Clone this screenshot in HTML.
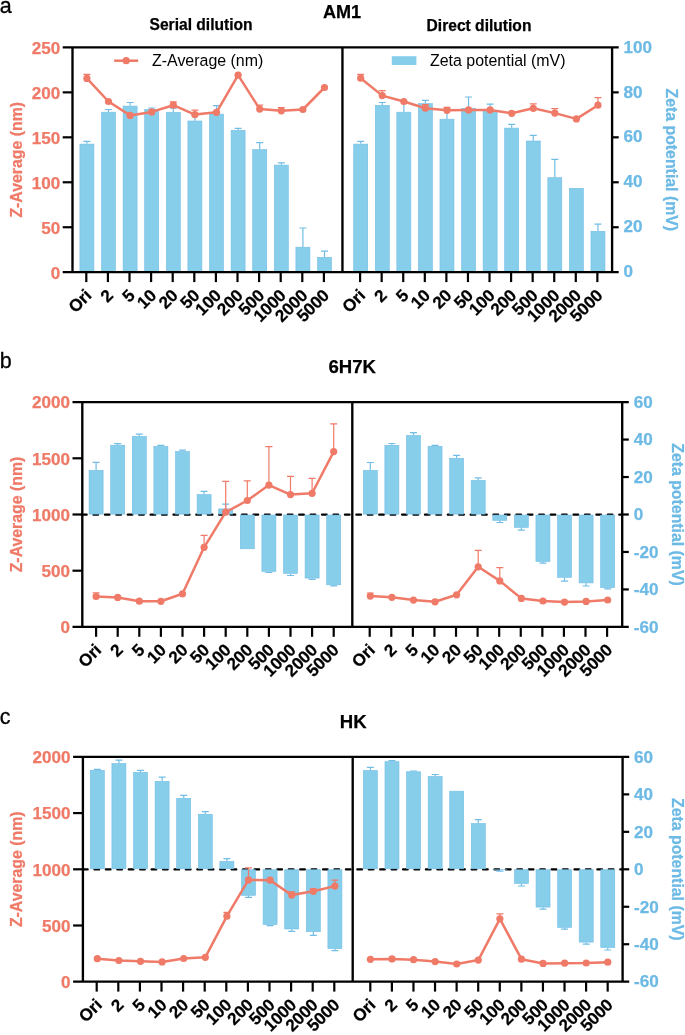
<!DOCTYPE html>
<html><head><meta charset="utf-8"><title>Figure</title>
<style>html,body{margin:0;padding:0;background:#fff}svg{display:block;will-change:transform}text{font-family:"Liberation Sans", Arial, Helvetica, sans-serif}</style>
</head><body>
<svg width="685" height="1035" viewBox="0 0 685 1035">
<rect width="685" height="1035" fill="#fff"/>
<rect x="79.90" y="144.10" width="14.0" height="127.80" fill="#87CEEB" stroke="#72BDE6" stroke-width="0.6"/>
<path d="M86.90 143.80V141.30M83.40 141.30H90.40" stroke="#72BDE6" stroke-width="1.2" fill="none"/>
<rect x="101.50" y="112.20" width="14.0" height="159.70" fill="#87CEEB" stroke="#72BDE6" stroke-width="0.6"/>
<path d="M108.50 111.90V109.50M105.00 109.50H112.00" stroke="#72BDE6" stroke-width="1.2" fill="none"/>
<rect x="123.10" y="106.10" width="14.0" height="165.80" fill="#87CEEB" stroke="#72BDE6" stroke-width="0.6"/>
<path d="M130.10 105.80V102.50M126.60 102.50H133.60" stroke="#72BDE6" stroke-width="1.2" fill="none"/>
<rect x="144.70" y="109.30" width="14.0" height="162.60" fill="#87CEEB" stroke="#72BDE6" stroke-width="0.6"/>
<path d="M151.70 109.00V108.00M148.20 108.00H155.20" stroke="#72BDE6" stroke-width="1.2" fill="none"/>
<rect x="166.30" y="112.40" width="14.0" height="159.50" fill="#87CEEB" stroke="#72BDE6" stroke-width="0.6"/>
<path d="M173.30 112.10V108.20M169.80 108.20H176.80" stroke="#72BDE6" stroke-width="1.2" fill="none"/>
<rect x="187.90" y="121.00" width="14.0" height="150.90" fill="#87CEEB" stroke="#72BDE6" stroke-width="0.6"/>
<path d="M194.90 120.70V115.30M191.40 115.30H198.40" stroke="#72BDE6" stroke-width="1.2" fill="none"/>
<rect x="209.50" y="114.10" width="14.0" height="157.80" fill="#87CEEB" stroke="#72BDE6" stroke-width="0.6"/>
<path d="M216.50 113.80V105.70M213.00 105.70H220.00" stroke="#72BDE6" stroke-width="1.2" fill="none"/>
<rect x="231.10" y="130.40" width="14.0" height="141.50" fill="#87CEEB" stroke="#72BDE6" stroke-width="0.6"/>
<path d="M238.10 130.10V128.40M234.60 128.40H241.60" stroke="#72BDE6" stroke-width="1.2" fill="none"/>
<rect x="252.70" y="149.60" width="14.0" height="122.30" fill="#87CEEB" stroke="#72BDE6" stroke-width="0.6"/>
<path d="M259.70 149.30V142.60M256.20 142.60H263.20" stroke="#72BDE6" stroke-width="1.2" fill="none"/>
<rect x="274.30" y="165.10" width="14.0" height="106.80" fill="#87CEEB" stroke="#72BDE6" stroke-width="0.6"/>
<path d="M281.30 164.80V162.90M277.80 162.90H284.80" stroke="#72BDE6" stroke-width="1.2" fill="none"/>
<rect x="295.90" y="247.20" width="14.0" height="24.70" fill="#87CEEB" stroke="#72BDE6" stroke-width="0.6"/>
<path d="M302.90 246.90V228.00M299.40 228.00H306.40" stroke="#72BDE6" stroke-width="1.2" fill="none"/>
<rect x="317.50" y="257.30" width="14.0" height="14.60" fill="#87CEEB" stroke="#72BDE6" stroke-width="0.6"/>
<path d="M324.50 257.00V251.20M321.00 251.20H328.00" stroke="#72BDE6" stroke-width="1.2" fill="none"/>
<rect x="353.70" y="144.10" width="14.0" height="127.80" fill="#87CEEB" stroke="#72BDE6" stroke-width="0.6"/>
<path d="M360.70 143.80V141.30M357.20 141.30H364.20" stroke="#72BDE6" stroke-width="1.2" fill="none"/>
<rect x="375.27" y="105.30" width="14.0" height="166.60" fill="#87CEEB" stroke="#72BDE6" stroke-width="0.6"/>
<path d="M382.27 105.00V102.50M378.77 102.50H385.77" stroke="#72BDE6" stroke-width="1.2" fill="none"/>
<rect x="396.84" y="112.20" width="14.0" height="159.70" fill="#87CEEB" stroke="#72BDE6" stroke-width="0.6"/>
<path d="M403.84 111.90V101.50M400.34 101.50H407.34" stroke="#72BDE6" stroke-width="1.2" fill="none"/>
<rect x="418.41" y="103.60" width="14.0" height="168.30" fill="#87CEEB" stroke="#72BDE6" stroke-width="0.6"/>
<path d="M425.41 103.30V100.30M421.91 100.30H428.91" stroke="#72BDE6" stroke-width="1.2" fill="none"/>
<rect x="439.98" y="119.20" width="14.0" height="152.70" fill="#87CEEB" stroke="#72BDE6" stroke-width="0.6"/>
<path d="M446.98 118.90V109.00M443.48 109.00H450.48" stroke="#72BDE6" stroke-width="1.2" fill="none"/>
<rect x="461.55" y="108.50" width="14.0" height="163.40" fill="#87CEEB" stroke="#72BDE6" stroke-width="0.6"/>
<path d="M468.55 108.20V97.00M465.05 97.00H472.05" stroke="#72BDE6" stroke-width="1.2" fill="none"/>
<rect x="483.12" y="111.50" width="14.0" height="160.40" fill="#87CEEB" stroke="#72BDE6" stroke-width="0.6"/>
<path d="M490.12 111.20V104.10M486.62 104.10H493.62" stroke="#72BDE6" stroke-width="1.2" fill="none"/>
<rect x="504.69" y="128.10" width="14.0" height="143.80" fill="#87CEEB" stroke="#72BDE6" stroke-width="0.6"/>
<path d="M511.69 127.80V124.40M508.19 124.40H515.19" stroke="#72BDE6" stroke-width="1.2" fill="none"/>
<rect x="526.26" y="141.00" width="14.0" height="130.90" fill="#87CEEB" stroke="#72BDE6" stroke-width="0.6"/>
<path d="M533.26 140.70V135.40M529.76 135.40H536.76" stroke="#72BDE6" stroke-width="1.2" fill="none"/>
<rect x="547.83" y="177.70" width="14.0" height="94.20" fill="#87CEEB" stroke="#72BDE6" stroke-width="0.6"/>
<path d="M554.83 177.40V159.30M551.33 159.30H558.33" stroke="#72BDE6" stroke-width="1.2" fill="none"/>
<rect x="569.40" y="188.30" width="14.0" height="83.60" fill="#87CEEB" stroke="#72BDE6" stroke-width="0.6"/>
<rect x="590.97" y="231.30" width="14.0" height="40.60" fill="#87CEEB" stroke="#72BDE6" stroke-width="0.6"/>
<path d="M597.97 231.00V224.20M594.47 224.20H601.47" stroke="#72BDE6" stroke-width="1.2" fill="none"/>
<path d="M86.90 78.40V74.30M83.40 74.30H90.40" stroke="#EF7A68" stroke-width="1.2" fill="none"/>
<path d="M173.30 105.20V101.90M169.80 101.90H176.80" stroke="#EF7A68" stroke-width="1.2" fill="none"/>
<path d="M194.90 114.60V110.10M191.40 110.10H198.40" stroke="#EF7A68" stroke-width="1.2" fill="none"/>
<path d="M259.70 109.10V105.10M256.20 105.10H263.20" stroke="#EF7A68" stroke-width="1.2" fill="none"/>
<path d="M281.30 110.80V107.60M277.80 107.60H284.80" stroke="#EF7A68" stroke-width="1.2" fill="none"/>
<polyline points="86.90,78.40 108.50,101.50 130.10,115.40 151.70,111.90 173.30,105.20 194.90,114.60 216.50,112.30 238.10,75.20 259.70,109.10 281.30,110.80 302.90,109.50 324.50,87.50" fill="none" stroke="#EF7A68" stroke-width="2.5" stroke-linejoin="round"/>
<circle cx="86.90" cy="78.40" r="3.6" fill="#EF7A68"/>
<circle cx="108.50" cy="101.50" r="3.6" fill="#EF7A68"/>
<circle cx="130.10" cy="115.40" r="3.6" fill="#EF7A68"/>
<circle cx="151.70" cy="111.90" r="3.6" fill="#EF7A68"/>
<circle cx="173.30" cy="105.20" r="3.6" fill="#EF7A68"/>
<circle cx="194.90" cy="114.60" r="3.6" fill="#EF7A68"/>
<circle cx="216.50" cy="112.30" r="3.6" fill="#EF7A68"/>
<circle cx="238.10" cy="75.20" r="3.6" fill="#EF7A68"/>
<circle cx="259.70" cy="109.10" r="3.6" fill="#EF7A68"/>
<circle cx="281.30" cy="110.80" r="3.6" fill="#EF7A68"/>
<circle cx="302.90" cy="109.50" r="3.6" fill="#EF7A68"/>
<circle cx="324.50" cy="87.50" r="3.6" fill="#EF7A68"/>
<path d="M360.70 78.20V74.30M357.20 74.30H364.20" stroke="#EF7A68" stroke-width="1.2" fill="none"/>
<path d="M382.27 95.60V90.70M378.77 90.70H385.77" stroke="#EF7A68" stroke-width="1.2" fill="none"/>
<path d="M425.41 108.20V104.60M421.91 104.60H428.91" stroke="#EF7A68" stroke-width="1.2" fill="none"/>
<path d="M446.98 110.30V107.40M443.48 107.40H450.48" stroke="#EF7A68" stroke-width="1.2" fill="none"/>
<path d="M533.26 108.30V103.90M529.76 103.90H536.76" stroke="#EF7A68" stroke-width="1.2" fill="none"/>
<path d="M554.83 113.10V108.60M551.33 108.60H558.33" stroke="#EF7A68" stroke-width="1.2" fill="none"/>
<path d="M597.97 105.20V97.60M594.47 97.60H601.47" stroke="#EF7A68" stroke-width="1.2" fill="none"/>
<polyline points="360.70,78.20 382.27,95.60 403.84,101.50 425.41,108.20 446.98,110.30 468.55,109.90 490.12,109.90 511.69,113.30 533.26,108.30 554.83,113.10 576.40,118.90 597.97,105.20" fill="none" stroke="#EF7A68" stroke-width="2.5" stroke-linejoin="round"/>
<circle cx="360.70" cy="78.20" r="3.6" fill="#EF7A68"/>
<circle cx="382.27" cy="95.60" r="3.6" fill="#EF7A68"/>
<circle cx="403.84" cy="101.50" r="3.6" fill="#EF7A68"/>
<circle cx="425.41" cy="108.20" r="3.6" fill="#EF7A68"/>
<circle cx="446.98" cy="110.30" r="3.6" fill="#EF7A68"/>
<circle cx="468.55" cy="109.90" r="3.6" fill="#EF7A68"/>
<circle cx="490.12" cy="109.90" r="3.6" fill="#EF7A68"/>
<circle cx="511.69" cy="113.30" r="3.6" fill="#EF7A68"/>
<circle cx="533.26" cy="108.30" r="3.6" fill="#EF7A68"/>
<circle cx="554.83" cy="113.10" r="3.6" fill="#EF7A68"/>
<circle cx="576.40" cy="118.90" r="3.6" fill="#EF7A68"/>
<circle cx="597.97" cy="105.20" r="3.6" fill="#EF7A68"/>
<path d="M62.70 47.40H618.70M62.70 272.20H618.70" stroke="#000" stroke-width="2.2" fill="none"/>
<path d="M72.50 47.40V272.20M342.45 47.40V272.20M612.10 47.40V272.20" stroke="#000" stroke-width="2.35" fill="none"/>
<text x="60.20" y="278.55" text-anchor="end" font-size="17.1" font-weight="bold" fill="#EF7A68" stroke="#EF7A68" stroke-width="0.25">0</text>
<line x1="62.70" y1="227.24" x2="72.50" y2="227.24" stroke="#000" stroke-width="2.2"/>
<text x="60.20" y="233.59" text-anchor="end" font-size="17.1" font-weight="bold" fill="#EF7A68" stroke="#EF7A68" stroke-width="0.25">50</text>
<line x1="62.70" y1="182.28" x2="72.50" y2="182.28" stroke="#000" stroke-width="2.2"/>
<text x="60.20" y="188.63" text-anchor="end" font-size="17.1" font-weight="bold" fill="#EF7A68" stroke="#EF7A68" stroke-width="0.25">100</text>
<line x1="62.70" y1="137.32" x2="72.50" y2="137.32" stroke="#000" stroke-width="2.2"/>
<text x="60.20" y="143.67" text-anchor="end" font-size="17.1" font-weight="bold" fill="#EF7A68" stroke="#EF7A68" stroke-width="0.25">150</text>
<line x1="62.70" y1="92.36" x2="72.50" y2="92.36" stroke="#000" stroke-width="2.2"/>
<text x="60.20" y="98.71" text-anchor="end" font-size="17.1" font-weight="bold" fill="#EF7A68" stroke="#EF7A68" stroke-width="0.25">200</text>
<text x="60.20" y="53.75" text-anchor="end" font-size="17.1" font-weight="bold" fill="#EF7A68" stroke="#EF7A68" stroke-width="0.25">250</text>
<text x="623.60" y="277.35" text-anchor="start" font-size="17.1" font-weight="bold" fill="#6DBAE5" stroke="#6DBAE5" stroke-width="0.25">0</text>
<line x1="612.10" y1="227.24" x2="618.70" y2="227.24" stroke="#000" stroke-width="2.2"/>
<text x="623.60" y="232.39" text-anchor="start" font-size="17.1" font-weight="bold" fill="#6DBAE5" stroke="#6DBAE5" stroke-width="0.25">20</text>
<line x1="612.10" y1="182.28" x2="618.70" y2="182.28" stroke="#000" stroke-width="2.2"/>
<text x="623.60" y="187.43" text-anchor="start" font-size="17.1" font-weight="bold" fill="#6DBAE5" stroke="#6DBAE5" stroke-width="0.25">40</text>
<line x1="612.10" y1="137.32" x2="618.70" y2="137.32" stroke="#000" stroke-width="2.2"/>
<text x="623.60" y="142.47" text-anchor="start" font-size="17.1" font-weight="bold" fill="#6DBAE5" stroke="#6DBAE5" stroke-width="0.25">60</text>
<line x1="612.10" y1="92.36" x2="618.70" y2="92.36" stroke="#000" stroke-width="2.2"/>
<text x="623.60" y="97.51" text-anchor="start" font-size="17.1" font-weight="bold" fill="#6DBAE5" stroke="#6DBAE5" stroke-width="0.25">80</text>
<text x="623.60" y="52.55" text-anchor="start" font-size="17.1" font-weight="bold" fill="#6DBAE5" stroke="#6DBAE5" stroke-width="0.25">100</text>
<line x1="86.30" y1="272.70" x2="86.30" y2="282.10" stroke="#000" stroke-width="2.2"/>
<text transform="translate(92.60 296.50) rotate(-45)" text-anchor="end" letter-spacing="-0.12" font-size="17.1" font-weight="bold" fill="#000" stroke="#000" stroke-width="0.25">Ori</text>
<line x1="107.90" y1="272.70" x2="107.90" y2="282.10" stroke="#000" stroke-width="2.2"/>
<text transform="translate(114.20 296.50) rotate(-45)" text-anchor="end" letter-spacing="-0.12" font-size="17.1" font-weight="bold" fill="#000" stroke="#000" stroke-width="0.25">2</text>
<line x1="129.50" y1="272.70" x2="129.50" y2="282.10" stroke="#000" stroke-width="2.2"/>
<text transform="translate(135.80 296.50) rotate(-45)" text-anchor="end" letter-spacing="-0.12" font-size="17.1" font-weight="bold" fill="#000" stroke="#000" stroke-width="0.25">5</text>
<line x1="151.10" y1="272.70" x2="151.10" y2="282.10" stroke="#000" stroke-width="2.2"/>
<text transform="translate(157.40 296.50) rotate(-45)" text-anchor="end" letter-spacing="-0.12" font-size="17.1" font-weight="bold" fill="#000" stroke="#000" stroke-width="0.25">10</text>
<line x1="172.70" y1="272.70" x2="172.70" y2="282.10" stroke="#000" stroke-width="2.2"/>
<text transform="translate(179.00 296.50) rotate(-45)" text-anchor="end" letter-spacing="-0.12" font-size="17.1" font-weight="bold" fill="#000" stroke="#000" stroke-width="0.25">20</text>
<line x1="194.30" y1="272.70" x2="194.30" y2="282.10" stroke="#000" stroke-width="2.2"/>
<text transform="translate(200.60 296.50) rotate(-45)" text-anchor="end" letter-spacing="-0.12" font-size="17.1" font-weight="bold" fill="#000" stroke="#000" stroke-width="0.25">50</text>
<line x1="215.90" y1="272.70" x2="215.90" y2="282.10" stroke="#000" stroke-width="2.2"/>
<text transform="translate(222.20 296.50) rotate(-45)" text-anchor="end" letter-spacing="-0.12" font-size="17.1" font-weight="bold" fill="#000" stroke="#000" stroke-width="0.25">100</text>
<line x1="237.50" y1="272.70" x2="237.50" y2="282.10" stroke="#000" stroke-width="2.2"/>
<text transform="translate(243.80 296.50) rotate(-45)" text-anchor="end" letter-spacing="-0.12" font-size="17.1" font-weight="bold" fill="#000" stroke="#000" stroke-width="0.25">200</text>
<line x1="259.10" y1="272.70" x2="259.10" y2="282.10" stroke="#000" stroke-width="2.2"/>
<text transform="translate(265.40 296.50) rotate(-45)" text-anchor="end" letter-spacing="-0.12" font-size="17.1" font-weight="bold" fill="#000" stroke="#000" stroke-width="0.25">500</text>
<line x1="280.70" y1="272.70" x2="280.70" y2="282.10" stroke="#000" stroke-width="2.2"/>
<text transform="translate(287.00 296.50) rotate(-45)" text-anchor="end" letter-spacing="-0.12" font-size="17.1" font-weight="bold" fill="#000" stroke="#000" stroke-width="0.25">1000</text>
<line x1="302.30" y1="272.70" x2="302.30" y2="282.10" stroke="#000" stroke-width="2.2"/>
<text transform="translate(308.60 296.50) rotate(-45)" text-anchor="end" letter-spacing="-0.12" font-size="17.1" font-weight="bold" fill="#000" stroke="#000" stroke-width="0.25">2000</text>
<line x1="323.90" y1="272.70" x2="323.90" y2="282.10" stroke="#000" stroke-width="2.2"/>
<text transform="translate(330.20 296.50) rotate(-45)" text-anchor="end" letter-spacing="-0.12" font-size="17.1" font-weight="bold" fill="#000" stroke="#000" stroke-width="0.25">5000</text>
<line x1="360.10" y1="272.70" x2="360.10" y2="282.10" stroke="#000" stroke-width="2.2"/>
<text transform="translate(366.40 296.50) rotate(-45)" text-anchor="end" letter-spacing="-0.12" font-size="17.1" font-weight="bold" fill="#000" stroke="#000" stroke-width="0.25">Ori</text>
<line x1="381.67" y1="272.70" x2="381.67" y2="282.10" stroke="#000" stroke-width="2.2"/>
<text transform="translate(387.97 296.50) rotate(-45)" text-anchor="end" letter-spacing="-0.12" font-size="17.1" font-weight="bold" fill="#000" stroke="#000" stroke-width="0.25">2</text>
<line x1="403.24" y1="272.70" x2="403.24" y2="282.10" stroke="#000" stroke-width="2.2"/>
<text transform="translate(409.54 296.50) rotate(-45)" text-anchor="end" letter-spacing="-0.12" font-size="17.1" font-weight="bold" fill="#000" stroke="#000" stroke-width="0.25">5</text>
<line x1="424.81" y1="272.70" x2="424.81" y2="282.10" stroke="#000" stroke-width="2.2"/>
<text transform="translate(431.11 296.50) rotate(-45)" text-anchor="end" letter-spacing="-0.12" font-size="17.1" font-weight="bold" fill="#000" stroke="#000" stroke-width="0.25">10</text>
<line x1="446.38" y1="272.70" x2="446.38" y2="282.10" stroke="#000" stroke-width="2.2"/>
<text transform="translate(452.68 296.50) rotate(-45)" text-anchor="end" letter-spacing="-0.12" font-size="17.1" font-weight="bold" fill="#000" stroke="#000" stroke-width="0.25">20</text>
<line x1="467.95" y1="272.70" x2="467.95" y2="282.10" stroke="#000" stroke-width="2.2"/>
<text transform="translate(474.25 296.50) rotate(-45)" text-anchor="end" letter-spacing="-0.12" font-size="17.1" font-weight="bold" fill="#000" stroke="#000" stroke-width="0.25">50</text>
<line x1="489.52" y1="272.70" x2="489.52" y2="282.10" stroke="#000" stroke-width="2.2"/>
<text transform="translate(495.82 296.50) rotate(-45)" text-anchor="end" letter-spacing="-0.12" font-size="17.1" font-weight="bold" fill="#000" stroke="#000" stroke-width="0.25">100</text>
<line x1="511.09" y1="272.70" x2="511.09" y2="282.10" stroke="#000" stroke-width="2.2"/>
<text transform="translate(517.39 296.50) rotate(-45)" text-anchor="end" letter-spacing="-0.12" font-size="17.1" font-weight="bold" fill="#000" stroke="#000" stroke-width="0.25">200</text>
<line x1="532.66" y1="272.70" x2="532.66" y2="282.10" stroke="#000" stroke-width="2.2"/>
<text transform="translate(538.96 296.50) rotate(-45)" text-anchor="end" letter-spacing="-0.12" font-size="17.1" font-weight="bold" fill="#000" stroke="#000" stroke-width="0.25">500</text>
<line x1="554.23" y1="272.70" x2="554.23" y2="282.10" stroke="#000" stroke-width="2.2"/>
<text transform="translate(560.53 296.50) rotate(-45)" text-anchor="end" letter-spacing="-0.12" font-size="17.1" font-weight="bold" fill="#000" stroke="#000" stroke-width="0.25">1000</text>
<line x1="575.80" y1="272.70" x2="575.80" y2="282.10" stroke="#000" stroke-width="2.2"/>
<text transform="translate(582.10 296.50) rotate(-45)" text-anchor="end" letter-spacing="-0.12" font-size="17.1" font-weight="bold" fill="#000" stroke="#000" stroke-width="0.25">2000</text>
<line x1="597.37" y1="272.70" x2="597.37" y2="282.10" stroke="#000" stroke-width="2.2"/>
<text transform="translate(603.67 296.50) rotate(-45)" text-anchor="end" letter-spacing="-0.12" font-size="17.1" font-weight="bold" fill="#000" stroke="#000" stroke-width="0.25">5000</text>
<text transform="translate(21.60 159.80) rotate(-90)" text-anchor="middle" font-size="15.85" font-weight="bold" fill="#EF7A68" stroke="#EF7A68" stroke-width="0.25">Z-Average (nm)</text>
<text transform="translate(666.00 159.80) rotate(90)" text-anchor="middle" font-size="15.85" font-weight="bold" fill="#6DBAE5" stroke="#6DBAE5" stroke-width="0.25">Zeta potential (mV)</text>
<text x="342.00" y="18.20" text-anchor="middle" font-size="18.1" font-weight="bold" fill="#000" stroke="#000" stroke-width="0.25">AM1</text>
<text x="-0.2" y="12.80" font-size="21.5" fill="#000" stroke="#000" stroke-width="0.3">a</text>
<line x1="82.00" y1="514.70" x2="622.20" y2="514.70" stroke="#000" stroke-width="2.2" stroke-linecap="round" stroke-dasharray="4.7 6.73"/>
<rect x="89.10" y="470.30" width="14.0" height="43.80" fill="#87CEEB" stroke="#72BDE6" stroke-width="0.6"/>
<path d="M96.10 470.00V462.40M92.60 462.40H99.60" stroke="#72BDE6" stroke-width="1.2" fill="none"/>
<rect x="110.70" y="445.20" width="14.0" height="68.90" fill="#87CEEB" stroke="#72BDE6" stroke-width="0.6"/>
<path d="M117.70 444.90V443.60M114.20 443.60H121.20" stroke="#72BDE6" stroke-width="1.2" fill="none"/>
<rect x="132.30" y="436.40" width="14.0" height="77.70" fill="#87CEEB" stroke="#72BDE6" stroke-width="0.6"/>
<path d="M139.30 436.10V434.20M135.80 434.20H142.80" stroke="#72BDE6" stroke-width="1.2" fill="none"/>
<rect x="153.90" y="446.40" width="14.0" height="67.70" fill="#87CEEB" stroke="#72BDE6" stroke-width="0.6"/>
<path d="M160.90 446.10V445.30M157.40 445.30H164.40" stroke="#72BDE6" stroke-width="1.2" fill="none"/>
<rect x="175.50" y="451.50" width="14.0" height="62.60" fill="#87CEEB" stroke="#72BDE6" stroke-width="0.6"/>
<path d="M182.50 451.20V450.20M179.00 450.20H186.00" stroke="#72BDE6" stroke-width="1.2" fill="none"/>
<rect x="197.10" y="494.60" width="14.0" height="19.50" fill="#87CEEB" stroke="#72BDE6" stroke-width="0.6"/>
<path d="M204.10 494.30V491.40M200.60 491.40H207.60" stroke="#72BDE6" stroke-width="1.2" fill="none"/>
<rect x="218.70" y="508.90" width="14.0" height="5.20" fill="#87CEEB" stroke="#72BDE6" stroke-width="0.6"/>
<path d="M225.70 508.60V504.20M222.20 504.20H229.20" stroke="#72BDE6" stroke-width="1.2" fill="none"/>
<rect x="240.30" y="515.05" width="14.0" height="33.75" fill="#87CEEB" stroke="#72BDE6" stroke-width="0.6"/>
<rect x="261.90" y="515.05" width="14.0" height="56.35" fill="#87CEEB" stroke="#72BDE6" stroke-width="0.6"/>
<path d="M268.90 571.70V572.50M265.40 572.50H272.40" stroke="#72BDE6" stroke-width="1.2" fill="none"/>
<rect x="283.50" y="515.05" width="14.0" height="58.35" fill="#87CEEB" stroke="#72BDE6" stroke-width="0.6"/>
<path d="M290.50 573.70V575.50M287.00 575.50H294.00" stroke="#72BDE6" stroke-width="1.2" fill="none"/>
<rect x="305.10" y="515.05" width="14.0" height="63.05" fill="#87CEEB" stroke="#72BDE6" stroke-width="0.6"/>
<path d="M312.10 578.40V579.40M308.60 579.40H315.60" stroke="#72BDE6" stroke-width="1.2" fill="none"/>
<rect x="326.70" y="515.05" width="14.0" height="69.75" fill="#87CEEB" stroke="#72BDE6" stroke-width="0.6"/>
<path d="M333.70 585.10V585.90M330.20 585.90H337.20" stroke="#72BDE6" stroke-width="1.2" fill="none"/>
<rect x="363.30" y="470.40" width="14.0" height="43.70" fill="#87CEEB" stroke="#72BDE6" stroke-width="0.6"/>
<path d="M370.30 470.10V462.50M366.80 462.50H373.80" stroke="#72BDE6" stroke-width="1.2" fill="none"/>
<rect x="384.88" y="445.30" width="14.0" height="68.80" fill="#87CEEB" stroke="#72BDE6" stroke-width="0.6"/>
<path d="M391.88 445.00V443.50M388.38 443.50H395.38" stroke="#72BDE6" stroke-width="1.2" fill="none"/>
<rect x="406.46" y="435.50" width="14.0" height="78.60" fill="#87CEEB" stroke="#72BDE6" stroke-width="0.6"/>
<path d="M413.46 435.20V432.70M409.96 432.70H416.96" stroke="#72BDE6" stroke-width="1.2" fill="none"/>
<rect x="428.04" y="446.30" width="14.0" height="67.80" fill="#87CEEB" stroke="#72BDE6" stroke-width="0.6"/>
<path d="M435.04 446.00V445.40M431.54 445.40H438.54" stroke="#72BDE6" stroke-width="1.2" fill="none"/>
<rect x="449.62" y="458.30" width="14.0" height="55.80" fill="#87CEEB" stroke="#72BDE6" stroke-width="0.6"/>
<path d="M456.62 458.00V455.40M453.12 455.40H460.12" stroke="#72BDE6" stroke-width="1.2" fill="none"/>
<rect x="471.20" y="480.40" width="14.0" height="33.70" fill="#87CEEB" stroke="#72BDE6" stroke-width="0.6"/>
<path d="M478.20 480.10V477.90M474.70 477.90H481.70" stroke="#72BDE6" stroke-width="1.2" fill="none"/>
<rect x="492.78" y="515.05" width="14.0" height="5.25" fill="#87CEEB" stroke="#72BDE6" stroke-width="0.6"/>
<path d="M499.78 520.60V522.50M496.28 522.50H503.28" stroke="#72BDE6" stroke-width="1.2" fill="none"/>
<rect x="514.36" y="515.05" width="14.0" height="12.25" fill="#87CEEB" stroke="#72BDE6" stroke-width="0.6"/>
<path d="M521.36 527.60V530.20M517.86 530.20H524.86" stroke="#72BDE6" stroke-width="1.2" fill="none"/>
<rect x="535.94" y="515.05" width="14.0" height="46.55" fill="#87CEEB" stroke="#72BDE6" stroke-width="0.6"/>
<path d="M542.94 561.90V563.10M539.44 563.10H546.44" stroke="#72BDE6" stroke-width="1.2" fill="none"/>
<rect x="557.52" y="515.05" width="14.0" height="62.25" fill="#87CEEB" stroke="#72BDE6" stroke-width="0.6"/>
<path d="M564.52 577.60V581.10M561.02 581.10H568.02" stroke="#72BDE6" stroke-width="1.2" fill="none"/>
<rect x="579.10" y="515.05" width="14.0" height="67.85" fill="#87CEEB" stroke="#72BDE6" stroke-width="0.6"/>
<path d="M586.10 583.20V586.00M582.60 586.00H589.60" stroke="#72BDE6" stroke-width="1.2" fill="none"/>
<rect x="600.68" y="515.05" width="14.0" height="72.55" fill="#87CEEB" stroke="#72BDE6" stroke-width="0.6"/>
<path d="M607.68 587.90V588.80M604.18 588.80H611.18" stroke="#72BDE6" stroke-width="1.2" fill="none"/>
<path d="M96.10 596.50V592.80M92.60 592.80H99.60" stroke="#EF7A68" stroke-width="1.2" fill="none"/>
<path d="M204.10 547.30V535.40M200.60 535.40H207.60" stroke="#EF7A68" stroke-width="1.2" fill="none"/>
<path d="M225.70 512.20V481.40M222.20 481.40H229.20" stroke="#EF7A68" stroke-width="1.2" fill="none"/>
<path d="M247.30 500.50V480.90M243.80 480.90H250.80" stroke="#EF7A68" stroke-width="1.2" fill="none"/>
<path d="M268.90 485.10V446.70M265.40 446.70H272.40" stroke="#EF7A68" stroke-width="1.2" fill="none"/>
<path d="M290.50 494.60V476.40M287.00 476.40H294.00" stroke="#EF7A68" stroke-width="1.2" fill="none"/>
<path d="M312.10 493.30V478.40M308.60 478.40H315.60" stroke="#EF7A68" stroke-width="1.2" fill="none"/>
<path d="M333.70 451.60V423.80M330.20 423.80H337.20" stroke="#EF7A68" stroke-width="1.2" fill="none"/>
<polyline points="96.10,596.50 117.70,597.40 139.30,601.20 160.90,601.30 182.50,593.80 204.10,547.30 225.70,512.20 247.30,500.50 268.90,485.10 290.50,494.60 312.10,493.30 333.70,451.60" fill="none" stroke="#EF7A68" stroke-width="2.5" stroke-linejoin="round"/>
<circle cx="96.10" cy="596.50" r="3.6" fill="#EF7A68"/>
<circle cx="117.70" cy="597.40" r="3.6" fill="#EF7A68"/>
<circle cx="139.30" cy="601.20" r="3.6" fill="#EF7A68"/>
<circle cx="160.90" cy="601.30" r="3.6" fill="#EF7A68"/>
<circle cx="182.50" cy="593.80" r="3.6" fill="#EF7A68"/>
<circle cx="204.10" cy="547.30" r="3.6" fill="#EF7A68"/>
<circle cx="225.70" cy="512.20" r="3.6" fill="#EF7A68"/>
<circle cx="247.30" cy="500.50" r="3.6" fill="#EF7A68"/>
<circle cx="268.90" cy="485.10" r="3.6" fill="#EF7A68"/>
<circle cx="290.50" cy="494.60" r="3.6" fill="#EF7A68"/>
<circle cx="312.10" cy="493.30" r="3.6" fill="#EF7A68"/>
<circle cx="333.70" cy="451.60" r="3.6" fill="#EF7A68"/>
<path d="M370.30 596.10V593.00M366.80 593.00H373.80" stroke="#EF7A68" stroke-width="1.2" fill="none"/>
<path d="M478.20 566.80V550.40M474.70 550.40H481.70" stroke="#EF7A68" stroke-width="1.2" fill="none"/>
<path d="M499.78 580.90V567.60M496.28 567.60H503.28" stroke="#EF7A68" stroke-width="1.2" fill="none"/>
<polyline points="370.30,596.10 391.88,597.30 413.46,600.10 435.04,601.80 456.62,594.80 478.20,566.80 499.78,580.90 521.36,598.40 542.94,601.00 564.52,602.10 586.10,601.40 607.68,600.00" fill="none" stroke="#EF7A68" stroke-width="2.5" stroke-linejoin="round"/>
<circle cx="370.30" cy="596.10" r="3.6" fill="#EF7A68"/>
<circle cx="391.88" cy="597.30" r="3.6" fill="#EF7A68"/>
<circle cx="413.46" cy="600.10" r="3.6" fill="#EF7A68"/>
<circle cx="435.04" cy="601.80" r="3.6" fill="#EF7A68"/>
<circle cx="456.62" cy="594.80" r="3.6" fill="#EF7A68"/>
<circle cx="478.20" cy="566.80" r="3.6" fill="#EF7A68"/>
<circle cx="499.78" cy="580.90" r="3.6" fill="#EF7A68"/>
<circle cx="521.36" cy="598.40" r="3.6" fill="#EF7A68"/>
<circle cx="542.94" cy="601.00" r="3.6" fill="#EF7A68"/>
<circle cx="564.52" cy="602.10" r="3.6" fill="#EF7A68"/>
<circle cx="586.10" cy="601.40" r="3.6" fill="#EF7A68"/>
<circle cx="607.68" cy="600.00" r="3.6" fill="#EF7A68"/>
<path d="M72.50 402.10H628.80M72.50 626.90H628.80" stroke="#000" stroke-width="2.2" fill="none"/>
<path d="M82.30 402.10V626.90M352.30 402.10V626.90M622.20 402.10V626.90" stroke="#000" stroke-width="2.35" fill="none"/>
<text x="70.00" y="633.25" text-anchor="end" font-size="17.1" font-weight="bold" fill="#EF7A68" stroke="#EF7A68" stroke-width="0.25">0</text>
<line x1="72.50" y1="570.70" x2="82.30" y2="570.70" stroke="#000" stroke-width="2.2"/>
<text x="70.00" y="577.05" text-anchor="end" font-size="17.1" font-weight="bold" fill="#EF7A68" stroke="#EF7A68" stroke-width="0.25">500</text>
<line x1="72.50" y1="514.50" x2="82.30" y2="514.50" stroke="#000" stroke-width="2.2"/>
<text x="70.00" y="520.85" text-anchor="end" font-size="17.1" font-weight="bold" fill="#EF7A68" stroke="#EF7A68" stroke-width="0.25">1000</text>
<line x1="72.50" y1="458.30" x2="82.30" y2="458.30" stroke="#000" stroke-width="2.2"/>
<text x="70.00" y="464.65" text-anchor="end" font-size="17.1" font-weight="bold" fill="#EF7A68" stroke="#EF7A68" stroke-width="0.25">1500</text>
<text x="70.00" y="408.45" text-anchor="end" font-size="17.1" font-weight="bold" fill="#EF7A68" stroke="#EF7A68" stroke-width="0.25">2000</text>
<text x="633.70" y="632.75" text-anchor="start" font-size="17.1" font-weight="bold" fill="#6DBAE5" stroke="#6DBAE5" stroke-width="0.25">-60</text>
<line x1="622.20" y1="589.43" x2="628.80" y2="589.43" stroke="#000" stroke-width="2.2"/>
<text x="633.70" y="595.28" text-anchor="start" font-size="17.1" font-weight="bold" fill="#6DBAE5" stroke="#6DBAE5" stroke-width="0.25">-40</text>
<line x1="622.20" y1="551.97" x2="628.80" y2="551.97" stroke="#000" stroke-width="2.2"/>
<text x="633.70" y="557.82" text-anchor="start" font-size="17.1" font-weight="bold" fill="#6DBAE5" stroke="#6DBAE5" stroke-width="0.25">-20</text>
<line x1="622.20" y1="514.50" x2="628.80" y2="514.50" stroke="#000" stroke-width="2.2"/>
<text x="633.70" y="520.35" text-anchor="start" font-size="17.1" font-weight="bold" fill="#6DBAE5" stroke="#6DBAE5" stroke-width="0.25">0</text>
<line x1="622.20" y1="477.03" x2="628.80" y2="477.03" stroke="#000" stroke-width="2.2"/>
<text x="633.70" y="482.88" text-anchor="start" font-size="17.1" font-weight="bold" fill="#6DBAE5" stroke="#6DBAE5" stroke-width="0.25">20</text>
<line x1="622.20" y1="439.57" x2="628.80" y2="439.57" stroke="#000" stroke-width="2.2"/>
<text x="633.70" y="445.42" text-anchor="start" font-size="17.1" font-weight="bold" fill="#6DBAE5" stroke="#6DBAE5" stroke-width="0.25">40</text>
<text x="633.70" y="407.95" text-anchor="start" font-size="17.1" font-weight="bold" fill="#6DBAE5" stroke="#6DBAE5" stroke-width="0.25">60</text>
<line x1="96.10" y1="627.40" x2="96.10" y2="636.80" stroke="#000" stroke-width="2.2"/>
<text transform="translate(102.40 651.20) rotate(-45)" text-anchor="end" letter-spacing="-0.12" font-size="17.1" font-weight="bold" fill="#000" stroke="#000" stroke-width="0.25">Ori</text>
<line x1="117.70" y1="627.40" x2="117.70" y2="636.80" stroke="#000" stroke-width="2.2"/>
<text transform="translate(124.00 651.20) rotate(-45)" text-anchor="end" letter-spacing="-0.12" font-size="17.1" font-weight="bold" fill="#000" stroke="#000" stroke-width="0.25">2</text>
<line x1="139.30" y1="627.40" x2="139.30" y2="636.80" stroke="#000" stroke-width="2.2"/>
<text transform="translate(145.60 651.20) rotate(-45)" text-anchor="end" letter-spacing="-0.12" font-size="17.1" font-weight="bold" fill="#000" stroke="#000" stroke-width="0.25">5</text>
<line x1="160.90" y1="627.40" x2="160.90" y2="636.80" stroke="#000" stroke-width="2.2"/>
<text transform="translate(167.20 651.20) rotate(-45)" text-anchor="end" letter-spacing="-0.12" font-size="17.1" font-weight="bold" fill="#000" stroke="#000" stroke-width="0.25">10</text>
<line x1="182.50" y1="627.40" x2="182.50" y2="636.80" stroke="#000" stroke-width="2.2"/>
<text transform="translate(188.80 651.20) rotate(-45)" text-anchor="end" letter-spacing="-0.12" font-size="17.1" font-weight="bold" fill="#000" stroke="#000" stroke-width="0.25">20</text>
<line x1="204.10" y1="627.40" x2="204.10" y2="636.80" stroke="#000" stroke-width="2.2"/>
<text transform="translate(210.40 651.20) rotate(-45)" text-anchor="end" letter-spacing="-0.12" font-size="17.1" font-weight="bold" fill="#000" stroke="#000" stroke-width="0.25">50</text>
<line x1="225.70" y1="627.40" x2="225.70" y2="636.80" stroke="#000" stroke-width="2.2"/>
<text transform="translate(232.00 651.20) rotate(-45)" text-anchor="end" letter-spacing="-0.12" font-size="17.1" font-weight="bold" fill="#000" stroke="#000" stroke-width="0.25">100</text>
<line x1="247.30" y1="627.40" x2="247.30" y2="636.80" stroke="#000" stroke-width="2.2"/>
<text transform="translate(253.60 651.20) rotate(-45)" text-anchor="end" letter-spacing="-0.12" font-size="17.1" font-weight="bold" fill="#000" stroke="#000" stroke-width="0.25">200</text>
<line x1="268.90" y1="627.40" x2="268.90" y2="636.80" stroke="#000" stroke-width="2.2"/>
<text transform="translate(275.20 651.20) rotate(-45)" text-anchor="end" letter-spacing="-0.12" font-size="17.1" font-weight="bold" fill="#000" stroke="#000" stroke-width="0.25">500</text>
<line x1="290.50" y1="627.40" x2="290.50" y2="636.80" stroke="#000" stroke-width="2.2"/>
<text transform="translate(296.80 651.20) rotate(-45)" text-anchor="end" letter-spacing="-0.12" font-size="17.1" font-weight="bold" fill="#000" stroke="#000" stroke-width="0.25">1000</text>
<line x1="312.10" y1="627.40" x2="312.10" y2="636.80" stroke="#000" stroke-width="2.2"/>
<text transform="translate(318.40 651.20) rotate(-45)" text-anchor="end" letter-spacing="-0.12" font-size="17.1" font-weight="bold" fill="#000" stroke="#000" stroke-width="0.25">2000</text>
<line x1="333.70" y1="627.40" x2="333.70" y2="636.80" stroke="#000" stroke-width="2.2"/>
<text transform="translate(340.00 651.20) rotate(-45)" text-anchor="end" letter-spacing="-0.12" font-size="17.1" font-weight="bold" fill="#000" stroke="#000" stroke-width="0.25">5000</text>
<line x1="369.70" y1="627.40" x2="369.70" y2="636.80" stroke="#000" stroke-width="2.2"/>
<text transform="translate(376.00 651.20) rotate(-45)" text-anchor="end" letter-spacing="-0.12" font-size="17.1" font-weight="bold" fill="#000" stroke="#000" stroke-width="0.25">Ori</text>
<line x1="391.28" y1="627.40" x2="391.28" y2="636.80" stroke="#000" stroke-width="2.2"/>
<text transform="translate(397.58 651.20) rotate(-45)" text-anchor="end" letter-spacing="-0.12" font-size="17.1" font-weight="bold" fill="#000" stroke="#000" stroke-width="0.25">2</text>
<line x1="412.86" y1="627.40" x2="412.86" y2="636.80" stroke="#000" stroke-width="2.2"/>
<text transform="translate(419.16 651.20) rotate(-45)" text-anchor="end" letter-spacing="-0.12" font-size="17.1" font-weight="bold" fill="#000" stroke="#000" stroke-width="0.25">5</text>
<line x1="434.44" y1="627.40" x2="434.44" y2="636.80" stroke="#000" stroke-width="2.2"/>
<text transform="translate(440.74 651.20) rotate(-45)" text-anchor="end" letter-spacing="-0.12" font-size="17.1" font-weight="bold" fill="#000" stroke="#000" stroke-width="0.25">10</text>
<line x1="456.02" y1="627.40" x2="456.02" y2="636.80" stroke="#000" stroke-width="2.2"/>
<text transform="translate(462.32 651.20) rotate(-45)" text-anchor="end" letter-spacing="-0.12" font-size="17.1" font-weight="bold" fill="#000" stroke="#000" stroke-width="0.25">20</text>
<line x1="477.60" y1="627.40" x2="477.60" y2="636.80" stroke="#000" stroke-width="2.2"/>
<text transform="translate(483.90 651.20) rotate(-45)" text-anchor="end" letter-spacing="-0.12" font-size="17.1" font-weight="bold" fill="#000" stroke="#000" stroke-width="0.25">50</text>
<line x1="499.18" y1="627.40" x2="499.18" y2="636.80" stroke="#000" stroke-width="2.2"/>
<text transform="translate(505.48 651.20) rotate(-45)" text-anchor="end" letter-spacing="-0.12" font-size="17.1" font-weight="bold" fill="#000" stroke="#000" stroke-width="0.25">100</text>
<line x1="520.76" y1="627.40" x2="520.76" y2="636.80" stroke="#000" stroke-width="2.2"/>
<text transform="translate(527.06 651.20) rotate(-45)" text-anchor="end" letter-spacing="-0.12" font-size="17.1" font-weight="bold" fill="#000" stroke="#000" stroke-width="0.25">200</text>
<line x1="542.34" y1="627.40" x2="542.34" y2="636.80" stroke="#000" stroke-width="2.2"/>
<text transform="translate(548.64 651.20) rotate(-45)" text-anchor="end" letter-spacing="-0.12" font-size="17.1" font-weight="bold" fill="#000" stroke="#000" stroke-width="0.25">500</text>
<line x1="563.92" y1="627.40" x2="563.92" y2="636.80" stroke="#000" stroke-width="2.2"/>
<text transform="translate(570.22 651.20) rotate(-45)" text-anchor="end" letter-spacing="-0.12" font-size="17.1" font-weight="bold" fill="#000" stroke="#000" stroke-width="0.25">1000</text>
<line x1="585.50" y1="627.40" x2="585.50" y2="636.80" stroke="#000" stroke-width="2.2"/>
<text transform="translate(591.80 651.20) rotate(-45)" text-anchor="end" letter-spacing="-0.12" font-size="17.1" font-weight="bold" fill="#000" stroke="#000" stroke-width="0.25">2000</text>
<line x1="607.08" y1="627.40" x2="607.08" y2="636.80" stroke="#000" stroke-width="2.2"/>
<text transform="translate(613.38 651.20) rotate(-45)" text-anchor="end" letter-spacing="-0.12" font-size="17.1" font-weight="bold" fill="#000" stroke="#000" stroke-width="0.25">5000</text>
<text transform="translate(21.60 514.50) rotate(-90)" text-anchor="middle" font-size="15.85" font-weight="bold" fill="#EF7A68" stroke="#EF7A68" stroke-width="0.25">Z-Average (nm)</text>
<text transform="translate(671.60 514.50) rotate(90)" text-anchor="middle" font-size="15.85" font-weight="bold" fill="#6DBAE5" stroke="#6DBAE5" stroke-width="0.25">Zeta potential (mV)</text>
<text x="352.20" y="373.10" text-anchor="middle" font-size="18.6" font-weight="bold" fill="#000" stroke="#000" stroke-width="0.25">6H7K</text>
<text x="-0.2" y="368.30" font-size="21.5" fill="#000" stroke="#000" stroke-width="0.3">b</text>
<line x1="83.00" y1="869.40" x2="622.60" y2="869.40" stroke="#000" stroke-width="2.2" stroke-linecap="round" stroke-dasharray="4.7 6.73"/>
<rect x="90.30" y="770.30" width="14.0" height="98.50" fill="#87CEEB" stroke="#72BDE6" stroke-width="0.6"/>
<path d="M97.30 770.00V769.40M93.80 769.40H100.80" stroke="#72BDE6" stroke-width="1.2" fill="none"/>
<rect x="111.90" y="763.60" width="14.0" height="105.20" fill="#87CEEB" stroke="#72BDE6" stroke-width="0.6"/>
<path d="M118.90 763.30V760.20M115.40 760.20H122.40" stroke="#72BDE6" stroke-width="1.2" fill="none"/>
<rect x="133.50" y="772.40" width="14.0" height="96.40" fill="#87CEEB" stroke="#72BDE6" stroke-width="0.6"/>
<path d="M140.50 772.10V770.40M137.00 770.40H144.00" stroke="#72BDE6" stroke-width="1.2" fill="none"/>
<rect x="155.10" y="781.40" width="14.0" height="87.40" fill="#87CEEB" stroke="#72BDE6" stroke-width="0.6"/>
<path d="M162.10 781.10V777.20M158.60 777.20H165.60" stroke="#72BDE6" stroke-width="1.2" fill="none"/>
<rect x="176.70" y="798.30" width="14.0" height="70.50" fill="#87CEEB" stroke="#72BDE6" stroke-width="0.6"/>
<path d="M183.70 798.00V795.40M180.20 795.40H187.20" stroke="#72BDE6" stroke-width="1.2" fill="none"/>
<rect x="198.30" y="814.30" width="14.0" height="54.50" fill="#87CEEB" stroke="#72BDE6" stroke-width="0.6"/>
<path d="M205.30 814.00V811.70M201.80 811.70H208.80" stroke="#72BDE6" stroke-width="1.2" fill="none"/>
<rect x="219.90" y="861.40" width="14.0" height="7.40" fill="#87CEEB" stroke="#72BDE6" stroke-width="0.6"/>
<path d="M226.90 861.10V858.60M223.40 858.60H230.40" stroke="#72BDE6" stroke-width="1.2" fill="none"/>
<rect x="241.50" y="869.75" width="14.0" height="25.55" fill="#87CEEB" stroke="#72BDE6" stroke-width="0.6"/>
<path d="M248.50 895.60V897.30M245.00 897.30H252.00" stroke="#72BDE6" stroke-width="1.2" fill="none"/>
<rect x="263.10" y="869.75" width="14.0" height="54.75" fill="#87CEEB" stroke="#72BDE6" stroke-width="0.6"/>
<path d="M270.10 924.80V925.60M266.60 925.60H273.60" stroke="#72BDE6" stroke-width="1.2" fill="none"/>
<rect x="284.70" y="869.75" width="14.0" height="59.25" fill="#87CEEB" stroke="#72BDE6" stroke-width="0.6"/>
<path d="M291.70 929.30V931.30M288.20 931.30H295.20" stroke="#72BDE6" stroke-width="1.2" fill="none"/>
<rect x="306.30" y="869.75" width="14.0" height="61.95" fill="#87CEEB" stroke="#72BDE6" stroke-width="0.6"/>
<path d="M313.30 932.00V935.30M309.80 935.30H316.80" stroke="#72BDE6" stroke-width="1.2" fill="none"/>
<rect x="327.90" y="869.75" width="14.0" height="78.85" fill="#87CEEB" stroke="#72BDE6" stroke-width="0.6"/>
<path d="M334.90 948.90V950.70M331.40 950.70H338.40" stroke="#72BDE6" stroke-width="1.2" fill="none"/>
<rect x="363.40" y="770.50" width="14.0" height="98.30" fill="#87CEEB" stroke="#72BDE6" stroke-width="0.6"/>
<path d="M370.40 770.20V767.40M366.90 767.40H373.90" stroke="#72BDE6" stroke-width="1.2" fill="none"/>
<rect x="384.98" y="761.70" width="14.0" height="107.10" fill="#87CEEB" stroke="#72BDE6" stroke-width="0.6"/>
<path d="M391.98 761.40V760.60M388.48 760.60H395.48" stroke="#72BDE6" stroke-width="1.2" fill="none"/>
<rect x="406.56" y="771.80" width="14.0" height="97.00" fill="#87CEEB" stroke="#72BDE6" stroke-width="0.6"/>
<path d="M413.56 771.50V771.00M410.06 771.00H417.06" stroke="#72BDE6" stroke-width="1.2" fill="none"/>
<rect x="428.14" y="776.50" width="14.0" height="92.30" fill="#87CEEB" stroke="#72BDE6" stroke-width="0.6"/>
<path d="M435.14 776.20V774.50M431.64 774.50H438.64" stroke="#72BDE6" stroke-width="1.2" fill="none"/>
<rect x="449.72" y="791.20" width="14.0" height="77.60" fill="#87CEEB" stroke="#72BDE6" stroke-width="0.6"/>
<rect x="471.30" y="823.50" width="14.0" height="45.30" fill="#87CEEB" stroke="#72BDE6" stroke-width="0.6"/>
<path d="M478.30 823.20V819.70M474.80 819.70H481.80" stroke="#72BDE6" stroke-width="1.2" fill="none"/>
<rect x="492.88" y="869.75" width="14.0" height="0.10" fill="#87CEEB" stroke="#72BDE6" stroke-width="0.6"/>
<path d="M499.88 870.10V871.10M496.38 871.10H503.38" stroke="#72BDE6" stroke-width="1.2" fill="none"/>
<rect x="514.46" y="869.75" width="14.0" height="13.75" fill="#87CEEB" stroke="#72BDE6" stroke-width="0.6"/>
<path d="M521.46 883.80V886.00M517.96 886.00H524.96" stroke="#72BDE6" stroke-width="1.2" fill="none"/>
<rect x="536.04" y="869.75" width="14.0" height="37.35" fill="#87CEEB" stroke="#72BDE6" stroke-width="0.6"/>
<path d="M543.04 907.40V909.10M539.54 909.10H546.54" stroke="#72BDE6" stroke-width="1.2" fill="none"/>
<rect x="557.62" y="869.75" width="14.0" height="57.65" fill="#87CEEB" stroke="#72BDE6" stroke-width="0.6"/>
<path d="M564.62 927.70V929.20M561.12 929.20H568.12" stroke="#72BDE6" stroke-width="1.2" fill="none"/>
<rect x="579.20" y="869.75" width="14.0" height="72.35" fill="#87CEEB" stroke="#72BDE6" stroke-width="0.6"/>
<path d="M586.20 942.40V944.10M582.70 944.10H589.70" stroke="#72BDE6" stroke-width="1.2" fill="none"/>
<rect x="600.78" y="869.75" width="14.0" height="77.75" fill="#87CEEB" stroke="#72BDE6" stroke-width="0.6"/>
<path d="M607.78 947.80V950.00M604.28 950.00H611.28" stroke="#72BDE6" stroke-width="1.2" fill="none"/>
<path d="M226.90 916.20V912.40M223.40 912.40H230.40" stroke="#EF7A68" stroke-width="1.2" fill="none"/>
<path d="M248.50 879.90V867.80M245.00 867.80H252.00" stroke="#EF7A68" stroke-width="1.2" fill="none"/>
<path d="M291.70 895.10V891.80M288.20 891.80H295.20" stroke="#EF7A68" stroke-width="1.2" fill="none"/>
<path d="M313.30 891.30V888.90M309.80 888.90H316.80" stroke="#EF7A68" stroke-width="1.2" fill="none"/>
<path d="M334.90 886.10V880.20M331.40 880.20H338.40" stroke="#EF7A68" stroke-width="1.2" fill="none"/>
<polyline points="97.30,958.70 118.90,960.50 140.50,961.30 162.10,961.90 183.70,958.50 205.30,957.30 226.90,916.20 248.50,879.90 270.10,880.20 291.70,895.10 313.30,891.30 334.90,886.10" fill="none" stroke="#EF7A68" stroke-width="2.5" stroke-linejoin="round"/>
<circle cx="97.30" cy="958.70" r="3.6" fill="#EF7A68"/>
<circle cx="118.90" cy="960.50" r="3.6" fill="#EF7A68"/>
<circle cx="140.50" cy="961.30" r="3.6" fill="#EF7A68"/>
<circle cx="162.10" cy="961.90" r="3.6" fill="#EF7A68"/>
<circle cx="183.70" cy="958.50" r="3.6" fill="#EF7A68"/>
<circle cx="205.30" cy="957.30" r="3.6" fill="#EF7A68"/>
<circle cx="226.90" cy="916.20" r="3.6" fill="#EF7A68"/>
<circle cx="248.50" cy="879.90" r="3.6" fill="#EF7A68"/>
<circle cx="270.10" cy="880.20" r="3.6" fill="#EF7A68"/>
<circle cx="291.70" cy="895.10" r="3.6" fill="#EF7A68"/>
<circle cx="313.30" cy="891.30" r="3.6" fill="#EF7A68"/>
<circle cx="334.90" cy="886.10" r="3.6" fill="#EF7A68"/>
<path d="M499.88 918.80V913.80M496.38 913.80H503.38" stroke="#EF7A68" stroke-width="1.2" fill="none"/>
<polyline points="370.40,959.30 391.98,958.90 413.56,959.70 435.14,961.60 456.72,964.00 478.30,960.10 499.88,918.80 521.46,959.20 543.04,963.40 564.62,963.20 586.20,963.00 607.78,962.20" fill="none" stroke="#EF7A68" stroke-width="2.5" stroke-linejoin="round"/>
<circle cx="370.40" cy="959.30" r="3.6" fill="#EF7A68"/>
<circle cx="391.98" cy="958.90" r="3.6" fill="#EF7A68"/>
<circle cx="413.56" cy="959.70" r="3.6" fill="#EF7A68"/>
<circle cx="435.14" cy="961.60" r="3.6" fill="#EF7A68"/>
<circle cx="456.72" cy="964.00" r="3.6" fill="#EF7A68"/>
<circle cx="478.30" cy="960.10" r="3.6" fill="#EF7A68"/>
<circle cx="499.88" cy="918.80" r="3.6" fill="#EF7A68"/>
<circle cx="521.46" cy="959.20" r="3.6" fill="#EF7A68"/>
<circle cx="543.04" cy="963.40" r="3.6" fill="#EF7A68"/>
<circle cx="564.62" cy="963.20" r="3.6" fill="#EF7A68"/>
<circle cx="586.20" cy="963.00" r="3.6" fill="#EF7A68"/>
<circle cx="607.78" cy="962.20" r="3.6" fill="#EF7A68"/>
<path d="M73.10 756.90H629.20M73.10 981.70H629.20" stroke="#000" stroke-width="2.2" fill="none"/>
<path d="M82.90 756.90V981.70M352.70 756.90V981.70M622.60 756.90V981.70" stroke="#000" stroke-width="2.35" fill="none"/>
<text x="70.60" y="988.05" text-anchor="end" font-size="17.1" font-weight="bold" fill="#EF7A68" stroke="#EF7A68" stroke-width="0.25">0</text>
<line x1="73.10" y1="925.50" x2="82.90" y2="925.50" stroke="#000" stroke-width="2.2"/>
<text x="70.60" y="931.85" text-anchor="end" font-size="17.1" font-weight="bold" fill="#EF7A68" stroke="#EF7A68" stroke-width="0.25">500</text>
<line x1="73.10" y1="869.30" x2="82.90" y2="869.30" stroke="#000" stroke-width="2.2"/>
<text x="70.60" y="875.65" text-anchor="end" font-size="17.1" font-weight="bold" fill="#EF7A68" stroke="#EF7A68" stroke-width="0.25">1000</text>
<line x1="73.10" y1="813.10" x2="82.90" y2="813.10" stroke="#000" stroke-width="2.2"/>
<text x="70.60" y="819.45" text-anchor="end" font-size="17.1" font-weight="bold" fill="#EF7A68" stroke="#EF7A68" stroke-width="0.25">1500</text>
<text x="70.60" y="763.25" text-anchor="end" font-size="17.1" font-weight="bold" fill="#EF7A68" stroke="#EF7A68" stroke-width="0.25">2000</text>
<text x="634.10" y="987.45" text-anchor="start" font-size="17.1" font-weight="bold" fill="#6DBAE5" stroke="#6DBAE5" stroke-width="0.25">-60</text>
<line x1="622.60" y1="944.23" x2="629.20" y2="944.23" stroke="#000" stroke-width="2.2"/>
<text x="634.10" y="949.98" text-anchor="start" font-size="17.1" font-weight="bold" fill="#6DBAE5" stroke="#6DBAE5" stroke-width="0.25">-40</text>
<line x1="622.60" y1="906.77" x2="629.20" y2="906.77" stroke="#000" stroke-width="2.2"/>
<text x="634.10" y="912.52" text-anchor="start" font-size="17.1" font-weight="bold" fill="#6DBAE5" stroke="#6DBAE5" stroke-width="0.25">-20</text>
<line x1="622.60" y1="869.30" x2="629.20" y2="869.30" stroke="#000" stroke-width="2.2"/>
<text x="634.10" y="875.05" text-anchor="start" font-size="17.1" font-weight="bold" fill="#6DBAE5" stroke="#6DBAE5" stroke-width="0.25">0</text>
<line x1="622.60" y1="831.83" x2="629.20" y2="831.83" stroke="#000" stroke-width="2.2"/>
<text x="634.10" y="837.58" text-anchor="start" font-size="17.1" font-weight="bold" fill="#6DBAE5" stroke="#6DBAE5" stroke-width="0.25">20</text>
<line x1="622.60" y1="794.37" x2="629.20" y2="794.37" stroke="#000" stroke-width="2.2"/>
<text x="634.10" y="800.12" text-anchor="start" font-size="17.1" font-weight="bold" fill="#6DBAE5" stroke="#6DBAE5" stroke-width="0.25">40</text>
<text x="634.10" y="762.65" text-anchor="start" font-size="17.1" font-weight="bold" fill="#6DBAE5" stroke="#6DBAE5" stroke-width="0.25">60</text>
<line x1="96.70" y1="982.20" x2="96.70" y2="991.60" stroke="#000" stroke-width="2.2"/>
<text transform="translate(103.00 1006.00) rotate(-45)" text-anchor="end" letter-spacing="-0.12" font-size="17.1" font-weight="bold" fill="#000" stroke="#000" stroke-width="0.25">Ori</text>
<line x1="118.30" y1="982.20" x2="118.30" y2="991.60" stroke="#000" stroke-width="2.2"/>
<text transform="translate(124.60 1006.00) rotate(-45)" text-anchor="end" letter-spacing="-0.12" font-size="17.1" font-weight="bold" fill="#000" stroke="#000" stroke-width="0.25">2</text>
<line x1="139.90" y1="982.20" x2="139.90" y2="991.60" stroke="#000" stroke-width="2.2"/>
<text transform="translate(146.20 1006.00) rotate(-45)" text-anchor="end" letter-spacing="-0.12" font-size="17.1" font-weight="bold" fill="#000" stroke="#000" stroke-width="0.25">5</text>
<line x1="161.50" y1="982.20" x2="161.50" y2="991.60" stroke="#000" stroke-width="2.2"/>
<text transform="translate(167.80 1006.00) rotate(-45)" text-anchor="end" letter-spacing="-0.12" font-size="17.1" font-weight="bold" fill="#000" stroke="#000" stroke-width="0.25">10</text>
<line x1="183.10" y1="982.20" x2="183.10" y2="991.60" stroke="#000" stroke-width="2.2"/>
<text transform="translate(189.40 1006.00) rotate(-45)" text-anchor="end" letter-spacing="-0.12" font-size="17.1" font-weight="bold" fill="#000" stroke="#000" stroke-width="0.25">20</text>
<line x1="204.70" y1="982.20" x2="204.70" y2="991.60" stroke="#000" stroke-width="2.2"/>
<text transform="translate(211.00 1006.00) rotate(-45)" text-anchor="end" letter-spacing="-0.12" font-size="17.1" font-weight="bold" fill="#000" stroke="#000" stroke-width="0.25">50</text>
<line x1="226.30" y1="982.20" x2="226.30" y2="991.60" stroke="#000" stroke-width="2.2"/>
<text transform="translate(232.60 1006.00) rotate(-45)" text-anchor="end" letter-spacing="-0.12" font-size="17.1" font-weight="bold" fill="#000" stroke="#000" stroke-width="0.25">100</text>
<line x1="247.90" y1="982.20" x2="247.90" y2="991.60" stroke="#000" stroke-width="2.2"/>
<text transform="translate(254.20 1006.00) rotate(-45)" text-anchor="end" letter-spacing="-0.12" font-size="17.1" font-weight="bold" fill="#000" stroke="#000" stroke-width="0.25">200</text>
<line x1="269.50" y1="982.20" x2="269.50" y2="991.60" stroke="#000" stroke-width="2.2"/>
<text transform="translate(275.80 1006.00) rotate(-45)" text-anchor="end" letter-spacing="-0.12" font-size="17.1" font-weight="bold" fill="#000" stroke="#000" stroke-width="0.25">500</text>
<line x1="291.10" y1="982.20" x2="291.10" y2="991.60" stroke="#000" stroke-width="2.2"/>
<text transform="translate(297.40 1006.00) rotate(-45)" text-anchor="end" letter-spacing="-0.12" font-size="17.1" font-weight="bold" fill="#000" stroke="#000" stroke-width="0.25">1000</text>
<line x1="312.70" y1="982.20" x2="312.70" y2="991.60" stroke="#000" stroke-width="2.2"/>
<text transform="translate(319.00 1006.00) rotate(-45)" text-anchor="end" letter-spacing="-0.12" font-size="17.1" font-weight="bold" fill="#000" stroke="#000" stroke-width="0.25">2000</text>
<line x1="334.30" y1="982.20" x2="334.30" y2="991.60" stroke="#000" stroke-width="2.2"/>
<text transform="translate(340.60 1006.00) rotate(-45)" text-anchor="end" letter-spacing="-0.12" font-size="17.1" font-weight="bold" fill="#000" stroke="#000" stroke-width="0.25">5000</text>
<line x1="370.30" y1="982.20" x2="370.30" y2="991.60" stroke="#000" stroke-width="2.2"/>
<text transform="translate(376.60 1006.00) rotate(-45)" text-anchor="end" letter-spacing="-0.12" font-size="17.1" font-weight="bold" fill="#000" stroke="#000" stroke-width="0.25">Ori</text>
<line x1="391.88" y1="982.20" x2="391.88" y2="991.60" stroke="#000" stroke-width="2.2"/>
<text transform="translate(398.18 1006.00) rotate(-45)" text-anchor="end" letter-spacing="-0.12" font-size="17.1" font-weight="bold" fill="#000" stroke="#000" stroke-width="0.25">2</text>
<line x1="413.46" y1="982.20" x2="413.46" y2="991.60" stroke="#000" stroke-width="2.2"/>
<text transform="translate(419.76 1006.00) rotate(-45)" text-anchor="end" letter-spacing="-0.12" font-size="17.1" font-weight="bold" fill="#000" stroke="#000" stroke-width="0.25">5</text>
<line x1="435.04" y1="982.20" x2="435.04" y2="991.60" stroke="#000" stroke-width="2.2"/>
<text transform="translate(441.34 1006.00) rotate(-45)" text-anchor="end" letter-spacing="-0.12" font-size="17.1" font-weight="bold" fill="#000" stroke="#000" stroke-width="0.25">10</text>
<line x1="456.62" y1="982.20" x2="456.62" y2="991.60" stroke="#000" stroke-width="2.2"/>
<text transform="translate(462.92 1006.00) rotate(-45)" text-anchor="end" letter-spacing="-0.12" font-size="17.1" font-weight="bold" fill="#000" stroke="#000" stroke-width="0.25">20</text>
<line x1="478.20" y1="982.20" x2="478.20" y2="991.60" stroke="#000" stroke-width="2.2"/>
<text transform="translate(484.50 1006.00) rotate(-45)" text-anchor="end" letter-spacing="-0.12" font-size="17.1" font-weight="bold" fill="#000" stroke="#000" stroke-width="0.25">50</text>
<line x1="499.78" y1="982.20" x2="499.78" y2="991.60" stroke="#000" stroke-width="2.2"/>
<text transform="translate(506.08 1006.00) rotate(-45)" text-anchor="end" letter-spacing="-0.12" font-size="17.1" font-weight="bold" fill="#000" stroke="#000" stroke-width="0.25">100</text>
<line x1="521.36" y1="982.20" x2="521.36" y2="991.60" stroke="#000" stroke-width="2.2"/>
<text transform="translate(527.66 1006.00) rotate(-45)" text-anchor="end" letter-spacing="-0.12" font-size="17.1" font-weight="bold" fill="#000" stroke="#000" stroke-width="0.25">200</text>
<line x1="542.94" y1="982.20" x2="542.94" y2="991.60" stroke="#000" stroke-width="2.2"/>
<text transform="translate(549.24 1006.00) rotate(-45)" text-anchor="end" letter-spacing="-0.12" font-size="17.1" font-weight="bold" fill="#000" stroke="#000" stroke-width="0.25">500</text>
<line x1="564.52" y1="982.20" x2="564.52" y2="991.60" stroke="#000" stroke-width="2.2"/>
<text transform="translate(570.82 1006.00) rotate(-45)" text-anchor="end" letter-spacing="-0.12" font-size="17.1" font-weight="bold" fill="#000" stroke="#000" stroke-width="0.25">1000</text>
<line x1="586.10" y1="982.20" x2="586.10" y2="991.60" stroke="#000" stroke-width="2.2"/>
<text transform="translate(592.40 1006.00) rotate(-45)" text-anchor="end" letter-spacing="-0.12" font-size="17.1" font-weight="bold" fill="#000" stroke="#000" stroke-width="0.25">2000</text>
<line x1="607.68" y1="982.20" x2="607.68" y2="991.60" stroke="#000" stroke-width="2.2"/>
<text transform="translate(613.98 1006.00) rotate(-45)" text-anchor="end" letter-spacing="-0.12" font-size="17.1" font-weight="bold" fill="#000" stroke="#000" stroke-width="0.25">5000</text>
<text transform="translate(22.20 869.30) rotate(-90)" text-anchor="middle" font-size="15.85" font-weight="bold" fill="#EF7A68" stroke="#EF7A68" stroke-width="0.25">Z-Average (nm)</text>
<text transform="translate(672.20 869.30) rotate(90)" text-anchor="middle" font-size="15.85" font-weight="bold" fill="#6DBAE5" stroke="#6DBAE5" stroke-width="0.25">Zeta potential (mV)</text>
<text x="353.20" y="727.70" text-anchor="middle" font-size="18.6" font-weight="bold" fill="#000" stroke="#000" stroke-width="0.25">HK</text>
<text x="-0.2" y="723.80" font-size="21.5" fill="#000" stroke="#000" stroke-width="0.3">c</text>
<text x="201.1" y="30.3" text-anchor="middle" font-size="15.6" font-weight="bold" fill="#000" stroke="#000" stroke-width="0.25">Serial dilution</text>
<text x="479.0" y="30.5" text-anchor="middle" font-size="15.6" font-weight="bold" fill="#000" stroke="#000" stroke-width="0.25">Direct dilution</text>
<line x1="114.2" y1="60.7" x2="138.2" y2="60.7" stroke="#EF7A68" stroke-width="2.5"/><circle cx="126.2" cy="60.7" r="3.6" fill="#EF7A68"/>
<text x="152.0" y="66.0" font-size="15.95" fill="#000">Z-Average (nm)</text>
<rect x="391.8" y="56.2" width="24.6" height="8.8" fill="#87CEEB"/>
<text x="430" y="66.0" font-size="15.95" fill="#000">Zeta potential (mV)</text>
</svg>
</body></html>
